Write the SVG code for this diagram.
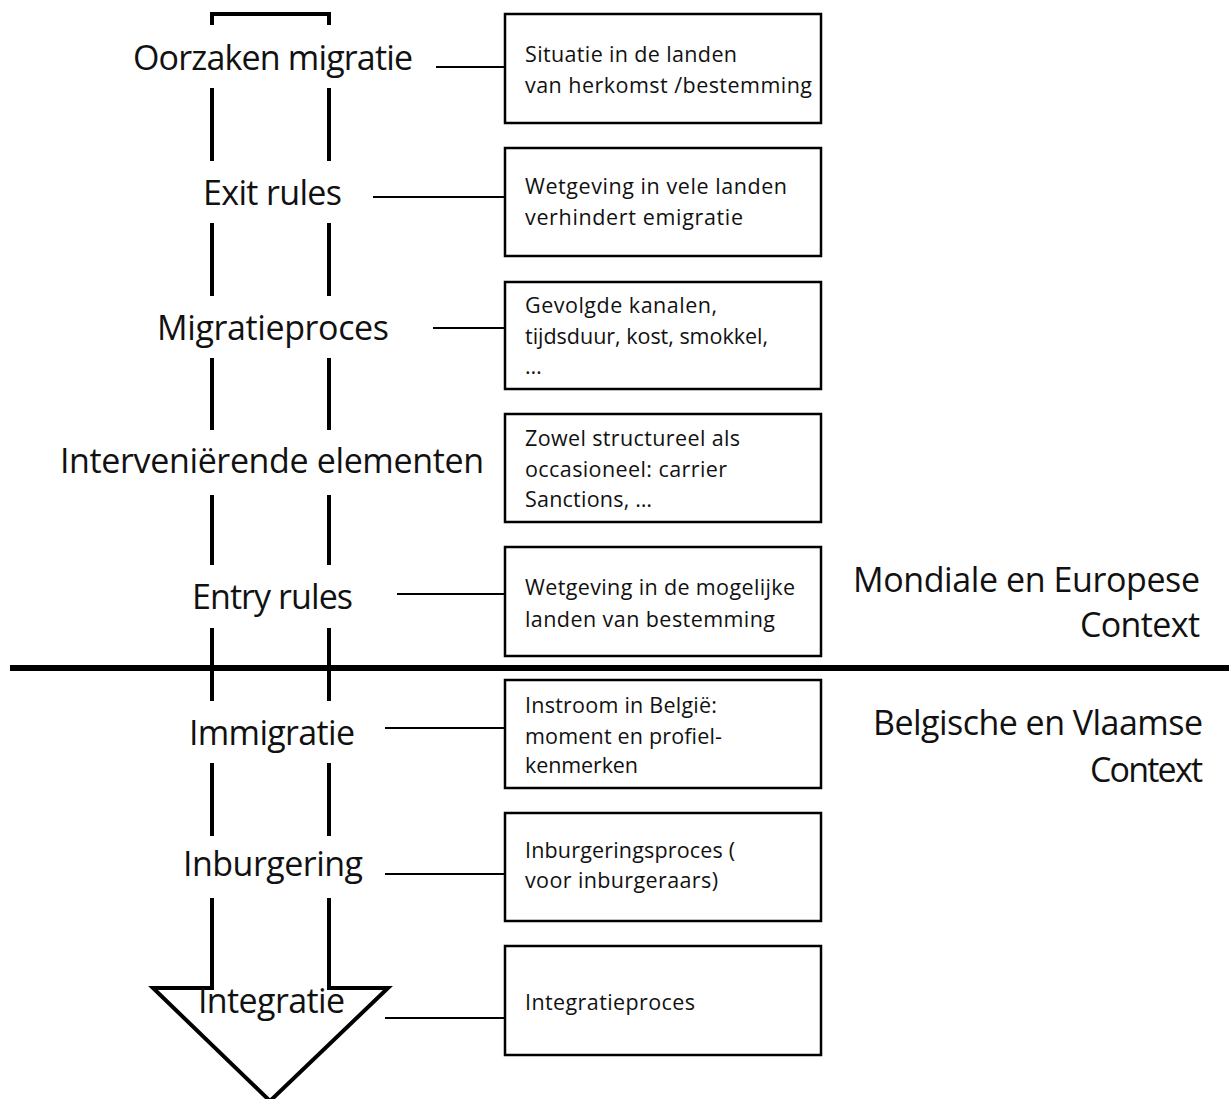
<svg xmlns="http://www.w3.org/2000/svg" width="1229" height="1099" viewBox="0 0 1229 1099">
<style>
.lbl{font-family:"Open Sans","Noto Sans",sans-serif;font-size:34px;fill:#111}
.btx{font-family:"Open Sans","Noto Sans",sans-serif;font-size:21.5px;fill:#111}
.ctx{font-family:"Open Sans","Noto Sans",sans-serif;font-size:34px;fill:#111}
.box{fill:#fff;stroke:#000;stroke-width:2.5}
.shaft{fill:none;stroke:#000;stroke-width:4}
.con{stroke:#000;stroke-width:2;fill:none}
</style>
<rect width="1229" height="1099" fill="#fff"/>
<g id="arrow">
<path class="shaft" d="M212,25 V14 H329 V25"/>
<path class="shaft" d="M212,88 V161 M329,88 V161"/>
<path class="shaft" d="M212,223 V296 M329,223 V296"/>
<path class="shaft" d="M212,358 V430 M329,358 V430"/>
<path class="shaft" d="M212,495 V565 M329,495 V565"/>
<path class="shaft" d="M212,628 V701 M329,628 V701"/>
<path class="shaft" d="M212,763 V836 M329,763 V836"/>
<path class="shaft" d="M212,898 V988 H153 L270,1101 L388,988 H329 V898"/>
</g>
<g id="divider">
<line x1="10" y1="668" x2="1229" y2="668" stroke="#000" stroke-width="6"/>
</g>
<g id="connectors">
<line class="con" x1="436" y1="67" x2="505" y2="67"/>
<line class="con" x1="373" y1="197" x2="505" y2="197"/>
<line class="con" x1="433" y1="328" x2="505" y2="328"/>
<line class="con" x1="397" y1="594" x2="505" y2="594"/>
<line class="con" x1="385" y1="728" x2="505" y2="728"/>
<line class="con" x1="385" y1="874" x2="505" y2="874"/>
<line class="con" x1="385" y1="1018" x2="505" y2="1018"/>
</g>
<g id="stage-oorzaken"><text class="lbl" x="133" y="70" textLength="280">Oorzaken migratie</text></g>
<g id="stage-exit"><text class="lbl" x="203" y="205" textLength="139">Exit rules</text></g>
<g id="stage-migratieproces"><text class="lbl" x="157" y="340" textLength="232">Migratieproces</text></g>
<g id="stage-interv"><text class="lbl" x="60" y="473" textLength="424">Interveniërende elementen</text></g>
<g id="stage-entry"><text class="lbl" x="192" y="609" textLength="161">Entry rules</text></g>
<g id="stage-immigratie"><text class="lbl" x="189" y="745" textLength="166">Immigratie</text></g>
<g id="stage-inburgering"><text class="lbl" x="183" y="876" textLength="180">Inburgering</text></g>
<g id="stage-integratie"><text class="lbl" x="198" y="1013" textLength="147">Integratie</text></g>
<g id="box1"><rect class="box" x="505" y="14" width="316" height="109"/>
<text class="btx" x="525" y="62" textLength="212">Situatie in de landen</text>
<text class="btx" x="525" y="93" textLength="287">van herkomst /bestemming</text></g>
<g id="box2"><rect class="box" x="505" y="148" width="316" height="108"/>
<text class="btx" x="525" y="194" textLength="262">Wetgeving in vele landen</text>
<text class="btx" x="525" y="225" textLength="218">verhindert emigratie</text></g>
<g id="box3"><rect class="box" x="505" y="282" width="316" height="107"/>
<text class="btx" x="525" y="313" textLength="192">Gevolgde kanalen,</text>
<text class="btx" x="525" y="344" textLength="243">tijdsduur, kost, smokkel,</text>
<text class="btx" x="525" y="374">…</text></g>
<g id="box4"><rect class="box" x="505" y="414" width="316" height="108"/>
<text class="btx" x="525" y="446" textLength="215">Zowel structureel als</text>
<text class="btx" x="525" y="477" textLength="202">occasioneel: carrier</text>
<text class="btx" x="525" y="507" textLength="127">Sanctions, …</text></g>
<g id="box5"><rect class="box" x="505" y="547" width="316" height="109"/>
<text class="btx" x="525" y="595" textLength="270">Wetgeving in de mogelijke</text>
<text class="btx" x="525" y="627" textLength="250">landen van bestemming</text></g>
<g id="box6"><rect class="box" x="505" y="680" width="316" height="108"/>
<text class="btx" x="525" y="713" textLength="192">Instroom in België:</text>
<text class="btx" x="525" y="744" textLength="197">moment en profiel-</text>
<text class="btx" x="525" y="773" textLength="113">kenmerken</text></g>
<g id="box7"><rect class="box" x="505" y="813" width="316" height="108"/>
<text class="btx" x="525" y="858" textLength="210">Inburgeringsproces (</text>
<text class="btx" x="525" y="888" textLength="193">voor inburgeraars)</text></g>
<g id="box8"><rect class="box" x="505" y="946" width="316" height="109"/>
<text class="btx" x="525" y="1010" textLength="170">Integratieproces</text></g>
<g id="context-mondiaal">
<text class="ctx" x="853" y="592" textLength="347">Mondiale en Europese</text>
<text class="ctx" x="1080" y="637" textLength="120">Context</text></g>
<g id="context-belgisch">
<text class="ctx" x="873" y="735" textLength="330">Belgische en Vlaamse</text>
<text class="ctx" x="1090" y="782" textLength="113">Context</text></g>
</svg>
